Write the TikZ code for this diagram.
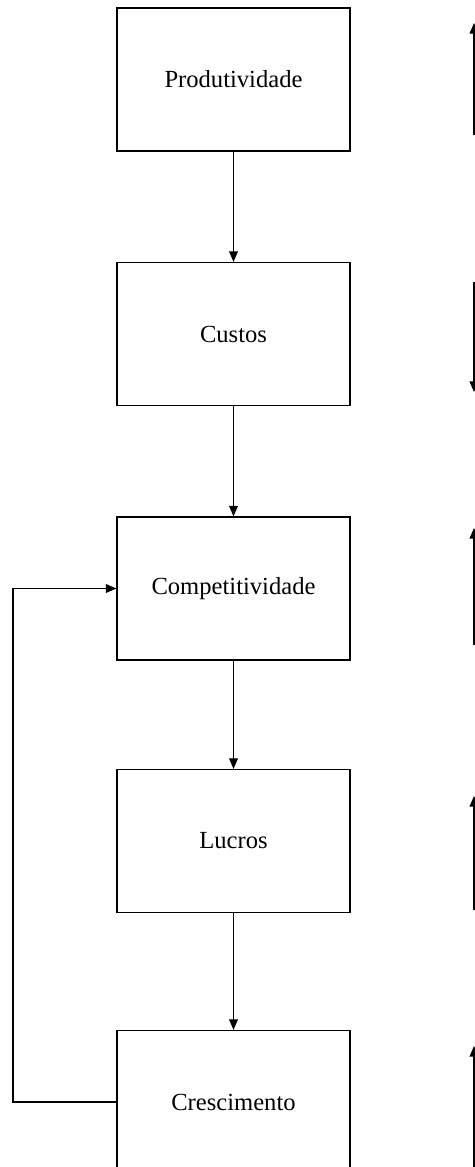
\documentclass[tikz,border=0pt]{standalone}
\usepackage{fontspec}
\setmainfont{Liberation Serif}
\usetikzlibrary{arrows.meta}

\tikzset{
  bloc/.style={draw, line width=0.7pt, minimum width=4.66cm, minimum height=2.86cm,
    font=\fontsize{14}{16}\selectfont},
  fleche/.style={line width=0.6pt, -{Triangle[length=6pt, width=5pt]}}
}

\begin{document}
\begin{tikzpicture}[x=0.02cm, y=-0.02cm]

  % Bounding box of the scheme
  \useasboundingbox (0,0) rectangle (475,1167) ;

  %%%%%%%%%%%%%%%%%%%%%%%%%%%%%%%%% Blocs %%%%%%%%%%%%%%%%%%%%%%%%%%%%%%%%%%%%
  \draw (233.5,79.5) node[bloc] (1) {Produtividade} ;
  \draw (233.5,334) node[bloc] (2) {Custos} ;
  \draw (233.5,588.5) node[bloc] (3) {Competitividade} ;
  \draw (233.5,841) node[bloc] (4) {Lucros} ;
  \draw (233.5,1102) node[bloc] (5) {Crescimento} ;

  %%%%%%%%%%%%%%%%%%%%%%%%%%%%%%%%% Flèches entre blocs %%%%%%%%%%%%%%%%%%%%%%%%%%%%%%%%%%%%
  \foreach \i/\j in {1/2,2/3,3/4,4/5} {
    \draw[fleche] (\i.south) -- (\j.north) ;
  }

  % Retour de la croissance
  \draw (13,1102) coordinate (6) ;
  \draw[fleche] (5.west) -- (6) |- (3.west) ;

  %%%%%%%%%%%%%%%%%%%%%%%%%%%%%%%%% Flèches à droite %%%%%%%%%%%%%%%%%%%%%%%%%%%%%%%%%%%%
  \draw (474,23) coordinate (7) ;
  \draw (474,135) coordinate (8) ;
  \draw (474,282) coordinate (9) ;
  \draw (474,392) coordinate (10) ;
  \draw (474,528) coordinate (11) ;
  \draw (474,645) coordinate (12) ;
  \draw (474,796) coordinate (13) ;
  \draw (474,910) coordinate (14) ;
  \draw (474,1046) coordinate (15) ;
  \draw (474,1167) coordinate (16) ;

  \draw[fleche] (8) -- (7) ;
  \draw[fleche] (9) -- (10) ;
  \draw[fleche] (12) -- (11) ;
  \draw[fleche] (14) -- (13) ;
  \draw[fleche] (16) -- (15) ;

\end{tikzpicture}
\end{document}
